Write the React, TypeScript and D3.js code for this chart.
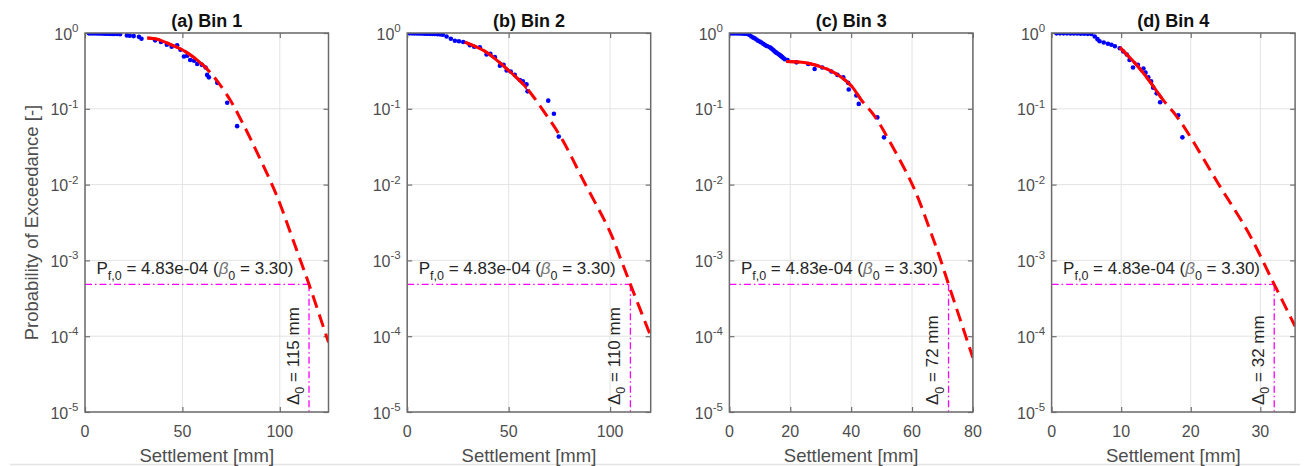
import React, { useEffect, useRef } from "react";
import * as d3 from "d3";

// panel settings
const panelTitles = ["(a) Bin 1", "(b) Bin 2", "(c) Bin 3", "(d) Bin 4"];
const xMaxes = [125, 120, 80, 35];
const xTickValues = [
  [0, 50, 100],
  [0, 50, 100],
  [0, 20, 40, 60, 80],
  [0, 10, 20, 30],
];
const yTickExps = [0, -1, -2, -3, -4, -5];
const deltaValues = [115, 110, 72, 32];
const solidEnds = [63, 59, 43.5, 16];
const pf0 = 4.83e-4;
const beta0 = 3.3;

// empirical exceedance points [settlement mm, probability]
const bin1Points = [
  [2, 0.99], [3, 0.99], [4, 0.99], [5, 0.99], [6, 0.99], [7, 0.985], [8, 0.985], [9, 0.985],
  [10, 0.98], [11, 0.98], [12, 0.98], [13, 0.975], [14, 0.975], [15, 0.97], [16.5, 0.97],
  [18, 0.965], [21.5, 0.93], [23, 0.92], [25, 0.91], [27.7, 0.89], [29, 0.84], [36, 0.8],
  [39, 0.76], [42, 0.7], [44.5, 0.66], [47.3, 0.69], [49, 0.6], [50.8, 0.49], [52.5, 0.5],
  [54, 0.44], [56, 0.43], [57.6, 0.39], [60, 0.38], [61.9, 0.35], [62.7, 0.28], [63.6, 0.26],
  [67.9, 0.22], [73, 0.12], [78.1, 0.059],
];
const bin2Points = [
  [1.3, 0.99], [2.5, 0.99], [3.5, 0.99], [4.5, 0.99], [5.5, 0.985], [6.5, 0.985], [7.5, 0.985],
  [8.5, 0.98], [9.5, 0.98], [10.5, 0.98], [11.5, 0.975], [12.5, 0.975], [13.5, 0.97],
  [15, 0.965], [16.3, 0.96], [17.5, 0.95], [19.4, 0.9], [21.5, 0.84], [23.5, 0.79],
  [25.5, 0.78], [27.6, 0.76], [30.9, 0.69], [33, 0.66], [35.8, 0.65], [39.1, 0.52],
  [41, 0.53], [43.2, 0.48], [45.7, 0.37], [47.5, 0.38], [49, 0.32], [51, 0.31], [53, 0.28],
  [55.5, 0.24], [57, 0.23], [58.8, 0.21], [59.3, 0.17], [69.5, 0.128], [72.3, 0.086],
  [74.7, 0.043],
];
const bin3Points = [
  [0.6, 0.99], [1.2, 0.99], [1.8, 0.99], [2.4, 0.99], [3, 0.99], [3.6, 0.985], [4.2, 0.985],
  [4.8, 0.98], [5.4, 0.98], [6, 0.97], [6.6, 0.94], [7.2, 0.9], [7.8, 0.87], [8.3, 0.85],
  [8.9, 0.82], [9.4, 0.79], [10, 0.77], [10.5, 0.75], [11.1, 0.72], [11.6, 0.7], [12.1, 0.68],
  [12.5, 0.67], [13.3, 0.65], [13.7, 0.63], [14.1, 0.61], [14.5, 0.59], [14.9, 0.57],
  [15.3, 0.555], [15.7, 0.54], [16.2, 0.525], [16.6, 0.51], [17, 0.495], [17.4, 0.48],
  [17.8, 0.465], [18.2, 0.45], [19.1, 0.44], [22, 0.41], [25.9, 0.39], [28, 0.335],
  [30.5, 0.35], [33.5, 0.31], [35.5, 0.28], [37.4, 0.26], [39, 0.22], [39.2, 0.18],
  [41.7, 0.15], [42.5, 0.116], [48.6, 0.077], [50.8, 0.042],
];
const bin4Points = [
  [0.7, 0.99], [1.2, 0.99], [1.7, 0.99], [2.2, 0.99], [2.7, 0.985], [3.2, 0.985], [3.7, 0.985],
  [4.2, 0.98], [4.7, 0.98], [5.2, 0.975], [5.7, 0.97], [6.2, 0.9], [6.6, 0.83], [6.9, 0.78],
  [7.5, 0.75], [8.1, 0.72], [8.6, 0.7], [9.1, 0.67], [9.8, 0.63], [10.3, 0.57], [10.8, 0.52],
  [11.2, 0.44], [11.7, 0.35], [12.4, 0.38], [13.2, 0.34], [13.5, 0.3], [13.9, 0.26],
  [14.3, 0.23], [14.6, 0.19], [15.1, 0.16], [15.6, 0.122], [18.2, 0.082], [18.8, 0.042],
];

// fitted exceedance curves [settlement mm, probability]
const bin1Fit = [
  [32, 0.86], [37, 0.83], [42, 0.74], [51, 0.58], [61, 0.37], [68, 0.23], [75, 0.125],
  [80, 0.072], [85, 0.04], [98, 0.0076], [107, 0.0018], [110, 0.0011], [115, 0.000483],
  [125, 0.000083],
];
const bin2Fit = [
  [28.4, 0.76], [38.3, 0.575], [48.1, 0.355], [58, 0.2], [66.2, 0.102], [76, 0.041],
  [86.7, 0.0115], [99.9, 0.0024], [104.8, 0.00112], [110, 0.000483], [120, 0.0001],
];
const bin3Fit = [
  [18.7, 0.42], [25.9, 0.4], [32.4, 0.33], [36.8, 0.26], [40.1, 0.2], [43.4, 0.13],
  [47.8, 0.079], [52.2, 0.04], [60.5, 0.0092], [67, 0.0019], [69.2, 0.00107], [72, 0.000483],
  [80, 0.000052],
];
const bin4Fit = [
  [9.8, 0.645], [12.2, 0.38], [14.1, 0.23], [16, 0.132], [18, 0.079], [19.6, 0.048],
  [23.9, 0.0105], [28.2, 0.0024], [32, 0.000483], [35, 0.000135],
];

const allPoints = [bin1Points, bin2Points, bin3Points, bin4Points];
const allFits = [bin1Fit, bin2Fit, bin3Fit, bin4Fit];

const FONT = "'Liberation Sans', Arial, Helvetica, sans-serif";

function fmtPf(v: number) {
  const s = v.toExponential(2); // 4.83e-4
  const [m, e] = s.split("e");
  const n = Math.abs(+e);
  return m + "e" + (+e < 0 ? "-" : "+") + (n < 10 ? "0" + n : "" + n);
}

export default function App() {
  const ref = useRef<SVGSVGElement>(null);

  useEffect(() => {
    const svg = d3.select(ref.current);
    svg.selectAll("*").remove();

    const top = 33,
      h = 379,
      w = 243.5;

    // faint page rule at the bottom
    svg.append("line")
      .attr("x1", 10).attr("x2", 1300).attr("y1", 464.5).attr("y2", 464.5)
      .attr("stroke", "#e4e4e4").attr("stroke-width", 1.5);

    panelTitles.forEach((title, i) => {
      const left = 85 + i * 322.2;
      const x = d3.scaleLinear().domain([0, xMaxes[i]]).range([0, w]);
      const y = d3.scaleLog().domain([1e-5, 1]).range([h, 0]);
      const yTicks = yTickExps.map((e) => Math.pow(10, e));

      const g = svg.append("g").attr("transform", `translate(${left},${top})`);

      // grid
      g.append("g")
        .selectAll("line.gx")
        .data(xTickValues[i])
        .join("line")
        .attr("x1", (d) => x(d)).attr("x2", (d) => x(d))
        .attr("y1", 0).attr("y2", h)
        .attr("stroke", "#e3e3e3").attr("stroke-width", 1);
      g.append("g")
        .selectAll("line.gy")
        .data(yTicks)
        .join("line")
        .attr("x1", 0).attr("x2", w)
        .attr("y1", (d) => y(d)).attr("y2", (d) => y(d))
        .attr("stroke", "#e3e3e3").attr("stroke-width", 1);

      // inward ticks on all four sides
      const tickStyle = (sel: any) => {
        sel.select(".domain").remove();
        sel.selectAll("line").attr("stroke", "#707070").attr("stroke-width", 1.2);
        sel.selectAll("text").remove();
      };
      g.append("g").attr("transform", `translate(0,${h})`)
        .call(d3.axisBottom(x).tickValues(xTickValues[i]).tickSize(-5)).call(tickStyle);
      g.append("g")
        .call(d3.axisTop(x).tickValues(xTickValues[i]).tickSize(-5)).call(tickStyle);
      g.append("g")
        .call(d3.axisLeft(y).tickValues(yTicks).tickSize(-5)).call(tickStyle);
      g.append("g").attr("transform", `translate(${w},0)`)
        .call(d3.axisRight(y).tickValues(yTicks).tickSize(-5)).call(tickStyle);

      // clip paths
      const clipId = `plot-clip-${i}`;
      const solidId = `solid-clip-${i}`;
      const defs = g.append("defs");
      defs.append("clipPath").attr("id", clipId)
        .append("rect").attr("x", 0).attr("y", 0).attr("width", w).attr("height", h);
      defs.append("clipPath").attr("id", solidId)
        .append("rect").attr("x", 0).attr("y", 0).attr("width", x(solidEnds[i])).attr("height", h);

      // threshold lines
      const pfY = y(pf0);
      const dX = x(deltaValues[i]);
      g.append("line")
        .attr("x1", x(0)).attr("x2", dX).attr("y1", pfY).attr("y2", pfY)
        .attr("stroke", "#ff00ff").attr("stroke-width", 1.3)
        .attr("stroke-dasharray", "7,3,1.5,3");
      g.append("line")
        .attr("x1", dX).attr("x2", dX).attr("y1", pfY).attr("y2", h)
        .attr("stroke", "#ff00ff").attr("stroke-width", 1.3)
        .attr("stroke-dasharray", "7,3,1.5,3");

      const plotArea = g.append("g").attr("clip-path", `url(#${clipId})`);

      // data points
      plotArea.append("g")
        .selectAll("circle")
        .data(allPoints[i])
        .join("circle")
        .attr("cx", (d) => x(d[0]))
        .attr("cy", (d) => y(d[1]))
        .attr("r", 2.3)
        .attr("fill", "#0000ff");

      // fitted curve: dashed everywhere, solid over data range
      const line = d3.line<number[]>()
        .x((d) => x(d[0]))
        .y((d) => y(d[1]))
        .curve(d3.curveCatmullRom.alpha(0.5));
      plotArea.append("path")
        .attr("d", line(allFits[i]) as string)
        .attr("fill", "none")
        .attr("stroke", "#ff0000")
        .attr("stroke-width", 3)
        .attr("stroke-dasharray", "13,7");
      plotArea.append("path")
        .attr("clip-path", `url(#${solidId})`)
        .attr("d", line(allFits[i]) as string)
        .attr("fill", "none")
        .attr("stroke", "#ff0000")
        .attr("stroke-width", 3);

      // frame
      g.append("rect")
        .attr("x", 0).attr("y", 0).attr("width", w).attr("height", h)
        .attr("fill", "none").attr("stroke", "#6b6b6b").attr("stroke-width", 1.5);

      // x tick labels
      g.append("g")
        .selectAll("text")
        .data(xTickValues[i])
        .join("text")
        .attr("x", (d) => x(d))
        .attr("y", h + 24.5)
        .attr("text-anchor", "middle")
        .attr("font-family", FONT)
        .attr("font-size", 16)
        .attr("fill", "#4d4d4d")
        .text((d) => d);

      // y tick labels 10^n
      const yl = g.append("g")
        .selectAll("text")
        .data(yTickExps)
        .join("text")
        .attr("x", -6.5)
        .attr("y", (e) => y(Math.pow(10, e)) + 6.5)
        .attr("text-anchor", "end")
        .attr("font-family", FONT)
        .attr("font-size", 16)
        .attr("fill", "#4d4d4d");
      yl.append("tspan").text("10");
      yl.append("tspan").attr("dy", -7.5).attr("font-size", 11.5).text((e) => (e < 0 ? "-" + -e : "" + e));

      // title
      g.append("text")
        .attr("x", w / 2).attr("y", 26.7 - top)
        .attr("text-anchor", "middle")
        .attr("font-family", FONT)
        .attr("font-size", 18)
        .attr("font-weight", "bold")
        .attr("fill", "#111")
        .text(title);

      // x label
      g.append("text")
        .attr("x", w / 2).attr("y", 462 - top)
        .attr("text-anchor", "middle")
        .attr("font-family", FONT)
        .attr("font-size", 18.5)
        .attr("fill", "#4d4d4d")
        .text("Settlement [mm]");

      // Pf annotation
      const pt = g.append("text")
        .attr("x", 11.5).attr("y", pfY - 10)
        .attr("font-family", FONT)
        .attr("font-size", 17)
        .attr("fill", "#262626");
      pt.append("tspan").text("P");
      pt.append("tspan").attr("dy", 5.5).attr("font-size", 12.5).text("f,0");
      pt.append("tspan").attr("dy", -5.5).text(` = ${fmtPf(pf0)} (`);
      pt.append("tspan").attr("font-style", "italic").attr("fill", "#777").text("\u03B2");
      pt.append("tspan").attr("dy", 5.5).attr("font-size", 12.5).text("0");
      pt.append("tspan").attr("dy", -5.5).text(` = ${beta0.toFixed(2)})`);

      // delta annotation
      const dt = g.append("text")
        .attr("transform", `translate(${dX - 10.5},${h - 7}) rotate(-90)`)
        .attr("font-family", FONT)
        .attr("font-size", 17)
        .attr("fill", "#262626");
      dt.append("tspan").text("\u0394");
      dt.append("tspan").attr("dy", 5.5).attr("font-size", 12.5).text("0");
      dt.append("tspan").attr("dy", -5.5).text(` = ${deltaValues[i]} mm`);

      // y label on first panel
      if (i === 0) {
        svg.append("text")
          .attr("transform", `translate(38,${top + h / 2}) rotate(-90)`)
          .attr("text-anchor", "middle")
          .attr("font-family", FONT)
          .attr("font-size", 18.5)
          .attr("fill", "#4d4d4d")
          .text("Probability of Exceedance [-]");
      }
    });
  }, []);

  return (
    <svg
      ref={ref}
      width={1309}
      height={466}
      style={{ position: "absolute", left: 0, top: 0, background: "#fff" }}
    />
  );
}
